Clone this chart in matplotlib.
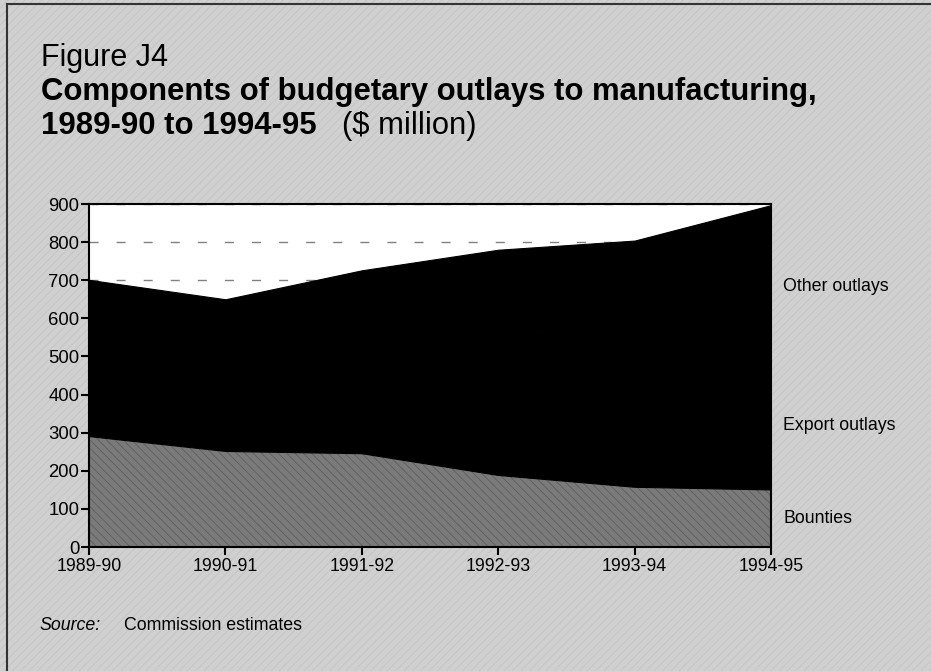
import matplotlib
matplotlib.use("Agg")
import matplotlib.pyplot as plt
from matplotlib.patches import Rectangle
from matplotlib.lines import Line2D

plt.rcParams['font.family'] = ['Liberation Sans', 'DejaVu Sans']
plt.rcParams['hatch.linewidth'] = 0.6

# data ($ million)
years = ["1989-90", "1990-91", "1991-92", "1992-93", "1993-94", "1994-95"]
bounties = [291, 252, 246, 189, 158, 151]
export_outlays = [209, 193, 249, 366, 432, 469]
other_outlays = [201, 205, 231, 225, 214, 277]
series_labels = ["Bounties", "Export outlays", "Other outlays"]
label_y = [75, 320, 683]
y_ticks = [0, 100, 200, 300, 400, 500, 600, 700, 800, 900]

W, H = 931, 671
bg = '#d0d0d0'
fig = plt.figure(figsize=(W / 100, H / 100), dpi=100)
fig.patch.set_facecolor(bg)

# textured page background + frame
fig.patches.append(Rectangle((0, 0), 1, 1, transform=fig.transFigure,
                             facecolor=bg, edgecolor='#c3c3c3', hatch='////',
                             linewidth=0, zorder=-10))
fig.lines.append(Line2D([7/W, 7/W], [0, 1 - 4/H], transform=fig.transFigure,
                        color='#333333', lw=1.5))
fig.lines.append(Line2D([7/W, 1], [1 - 4/H, 1 - 4/H], transform=fig.transFigure,
                        color='#333333', lw=1.5))

ax = fig.add_axes([89/W, 1 - 547/H, (771 - 89)/W, (547 - 204)/H])
ax.set_facecolor('white')

x = list(range(len(years)))
polys = ax.stackplot(x, bounties, export_outlays, other_outlays,
                     colors=['#7a7a7a', 'black', 'black'], linewidth=0)
polys[0].set_hatch('\\\\\\\\')
polys[0].set_edgecolor('#5e5e5e')
for p in polys[1:]:
    p.set_edgecolor('black')
    p.set_linewidth(0.8)

ax.set_xlim(0, len(years) - 1)
ax.set_ylim(0, 900)
ax.set_yticks(y_ticks)
ax.set_xticks(x)
ax.set_xticklabels(years)
ax.set_axisbelow(True)
ax.yaxis.grid(True, color='#808080', linestyle=(0, (6.5, 13)), linewidth=1)
ax.xaxis.grid(False)

for s in ax.spines.values():
    s.set_color('black')
    s.set_linewidth(1.5)
ax.tick_params(axis='both', direction='out', length=6, width=1.5, labelsize=12.8)
ax.tick_params(axis='y', pad=1, labelsize=13.3)
ax.tick_params(axis='x', pad=2)

for lab, yv in zip(series_labels, label_y):
    ax.text(len(years) - 1 + 0.09, yv, lab, fontsize=12.8, va='center', ha='left',
            clip_on=False)

fig.text(41/W, 1 - 66/H, "Figure J4", fontsize=22, va='baseline', ha='left')
fig.text(41/W, 1 - 100/H, "Components of budgetary outlays to manufacturing,",
         fontsize=22.4, fontweight='bold', va='baseline', ha='left')
fig.text(41/W, 1 - 134/H, "1989-90 to 1994-95", fontsize=22.4, fontweight='bold',
         va='baseline', ha='left')
fig.text(342/W, 1 - 134/H, "($ million)", fontsize=22.3, va='baseline', ha='left')

fig.text(39/W, 1 - 630/H, "Source:", fontsize=12.8, style='italic', va='baseline', ha='left')
fig.text(124/W, 1 - 630/H, "Commission estimates", fontsize=12.8, va='baseline', ha='left')

fig.savefig("out.png", dpi=100, facecolor=fig.get_facecolor())
